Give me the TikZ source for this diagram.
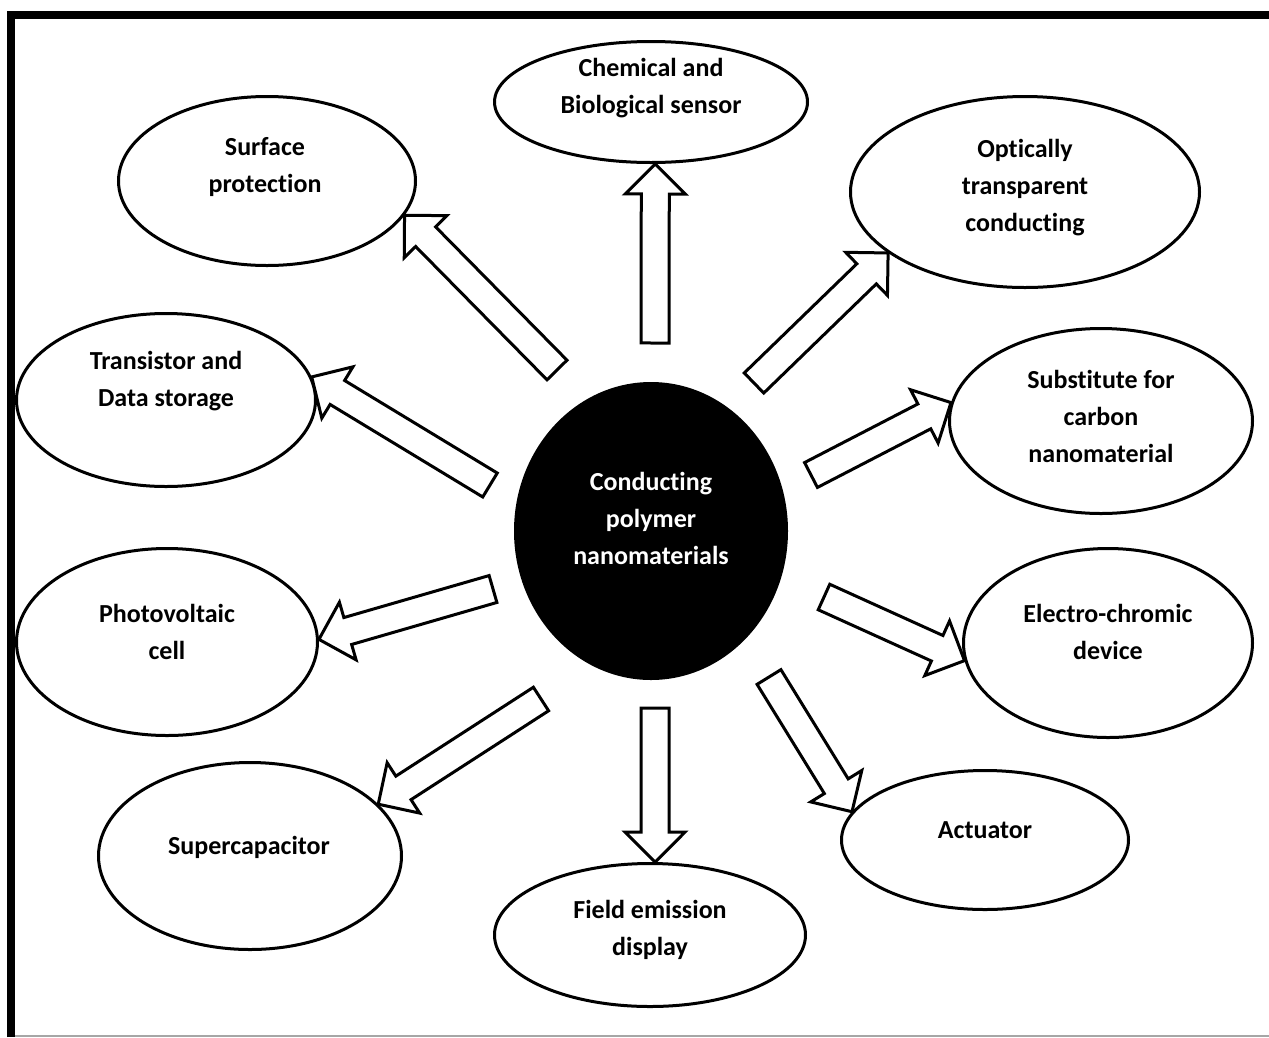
\documentclass[tikz,border=0pt]{standalone}
\usepackage{fontspec}
\setmainfont[Ligatures={NoCommon,NoContextual,NoRequired}, Contextuals=NoAlternate]{Carlito}
\usetikzlibrary{shapes.geometric}
\usetikzlibrary{calc}
\tikzstyle{bubble}=[draw, ellipse, line width=3pt, inner sep=0pt]
\tikzstyle{hubnode}=[ellipse, fill=black, inner sep=0pt]
\tikzstyle{caption}=[align=center, font=\fontsize{26}{37}\selectfont\bfseries]
\tikzstyle{hollow}=[line width=3pt, fill=white]

% block arrow from tail #1 to tip #2
\newcommand\bigarrow[2]{%
  \coordinate (at) at #1;
  \coordinate (ap) at #2;
  \coordinate (ah) at ($(ap)!30pt!(at)$);
  \draw[hollow] ($(at)!14pt!90:(ap)$) -- ($(ah)!14pt!90:(ap)$)
    -- ($(ah)!30pt!90:(ap)$) -- (ap) -- ($(ah)!30pt!-90:(ap)$)
    -- ($(ah)!14pt!-90:(ap)$) -- ($(at)!14pt!-90:(ap)$) -- cycle;}

\begin{document}
\begin{tikzpicture}[x=1pt, y=-1pt]
  \useasboundingbox (0,0) rectangle (1269,1037);
  \draw[line width=8pt] (11,1037) -- (11,15) -- (1269,15);
  \draw[black!35, line width=1.5pt] (15,1036) -- (1269,1036);

  % centre
  \node[hubnode, minimum width=274, minimum height=298] (hub) at (651,531) {};
  \node[caption, text=white] (hub-txt) at (651,518)
    {Conducting\\polymer\\nanomaterials};

  % applications
  \node[bubble, minimum width=313, minimum height=121] (sensor) at (651,102) {};
  \node[caption] (sensor-txt) at (651,88) {Chemical and\\Biological sensor};
  \node[bubble, minimum width=297, minimum height=169] (surface) at (267,181) {};
  \node[caption] (surface-txt) at (265,167) {Surface\\protection};
  \node[bubble, minimum width=349, minimum height=191] (optic) at (1025,192) {};
  \node[caption] (optic-txt) at (1025,188) {Optically\\transparent\\conducting};
  \node[bubble, minimum width=299, minimum height=173] (transistor) at (166,400) {};
  \node[caption] (transistor-txt) at (166,381) {Transistor and\\Data storage};
  \node[bubble, minimum width=303, minimum height=185] (carbon) at (1101,421) {};
  \node[caption] (carbon-txt) at (1101,416) {Substitute for\\carbon\\nanomaterial};
  \node[bubble, minimum width=301, minimum height=187] (photo) at (167,642) {};
  \node[caption] (photo-txt) at (167,632) {Photovoltaic\\cell};
  \node[bubble, minimum width=289, minimum height=189] (chromic) at (1108,643) {};
  \node[caption] (chromic-txt) at (1108,632) {Electro-chromic\\device};
  \node[bubble, minimum width=303, minimum height=187] (supercap) at (250,856) {};
  \node[caption] (supercap-txt) at (249,847) {Supercapacitor};
  \node[bubble, minimum width=287, minimum height=139] (actuator) at (985,840) {};
  \node[caption] (actuator-txt) at (985,830) {Actuator};
  \node[bubble, minimum width=311, minimum height=143] (field) at (650,935) {};
  \node[caption] (field-txt) at (650,930) {Field emission\\display};

  % arrows
  \bigarrow{($(hub)+(4,-188)$)}{(sensor.-86)}
  \bigarrow{($(hub)+(-94,-161)$)}{(surface.-14)}
  \bigarrow{($(hub)+(103,-148)$)}{(optic.204)}
  \bigarrow{($(hub)+(-161,-46)$)}{(transistor.9)}
  \bigarrow{($(hub)+(160,-56)$)}{(carbon.173)}
  \bigarrow{($(hub)+(-158,58)$)}{(photo.1)}
  \bigarrow{($(hub)+(173,66)$)}{(chromic.187)}
  \bigarrow{($(hub)+(-110,168)$)}{(supercap.22)}
  \bigarrow{($(hub)+(118,146)$)}{(actuator.168)}
  \bigarrow{($(hub)+(4,177)$)}{(field.86)}
\end{tikzpicture}
\end{document}
